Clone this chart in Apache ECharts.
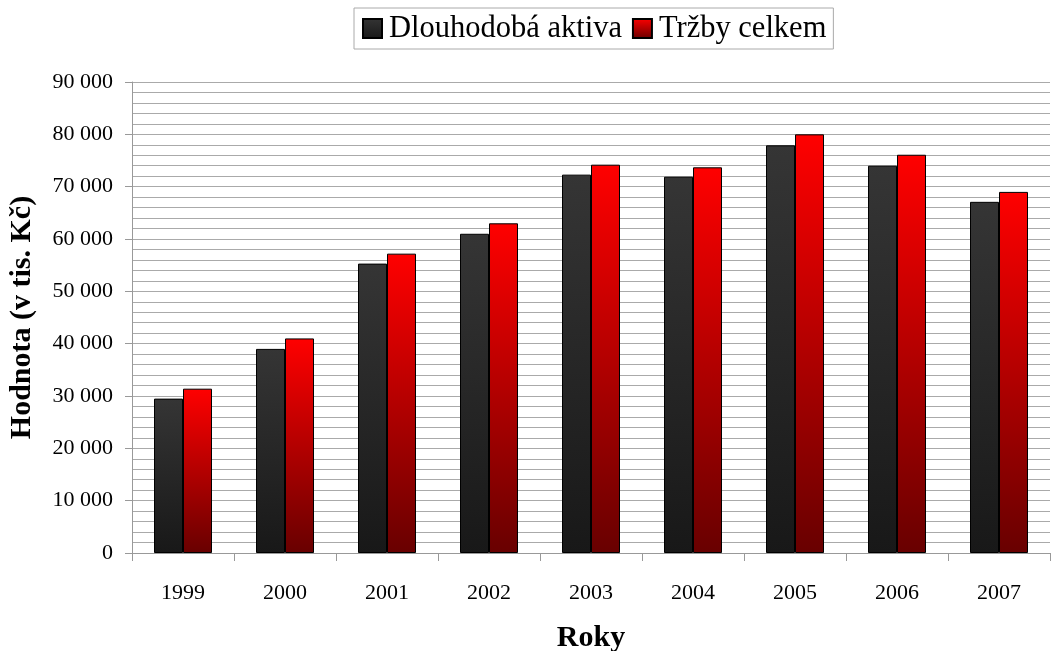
<!DOCTYPE html>
<html><head><meta charset="utf-8">
<script src="https://cdn.jsdelivr.net/npm/echarts@6/dist/echarts.min.js"></script>
<style>html,body{margin:0;padding:0;background:#fff}#c{width:1053px;height:651px}</style>
</head><body><div id="c"></div>
<script>
const years = ['1999','2000','2001','2002','2003','2004','2005','2006','2007'];
const dlouhodobaAktiva = [29500, 39000, 55300, 61000, 72300, 71900, 77900, 74000, 67100];
const trzbyCelkem = [31400, 41000, 57200, 63000, 74200, 73700, 80000, 76100, 69000];
const seriesNames = ['Dlouhodobá aktiva', 'Tržby celkem'];
const FONT = '"Liberation Serif", "DejaVu Serif", serif';

const chart = echarts.init(document.getElementById('c'));
const darkGrad = new echarts.graphic.LinearGradient(0,0,0,1,[{offset:0,color:'#353535'},{offset:1,color:'#181818'}]);
const redGrad = new echarts.graphic.LinearGradient(0,0,0,1,[{offset:0,color:'#ff0000'},{offset:1,color:'#680000'}]);
chart.setOption({
  animation:false,
  textStyle:{fontFamily:FONT},
  legend:{
    left:354, top:8, itemWidth:19, itemHeight:19, itemGap:10, icon:'rect',
    padding:[5,7,5,8],
    borderColor:'#aaa', borderWidth:1,
    textStyle:{fontFamily:FONT,fontSize:30.5,color:'#000',padding:[0,0,0,2]},
    data:seriesNames
  },
  grid:{left:132,right:3,top:82,bottom:98,containLabel:false,outerBoundsMode:'none'},
  xAxis:{
    type:'category', data:years,
    name:'Roky', nameLocation:'middle', nameGap:70,
    nameTextStyle:{fontFamily:FONT,fontSize:30,fontWeight:'bold',color:'#000'},
    axisLine:{lineStyle:{color:'#999'}},
    axisTick:{show:true,length:8,lineStyle:{color:'#999'},alignWithLabel:false},
    axisLabel:{fontFamily:FONT,fontSize:22,color:'#000',margin:29}
  },
  yAxis:{
    type:'value', min:0, max:90000, interval:10000,
    name:'Hodnota (v tis. Kč)', nameLocation:'middle', nameGap:95, nameRotate:90,
    nameTextStyle:{fontFamily:FONT,fontSize:30,fontWeight:'bold',color:'#000'},
    axisLine:{show:true,lineStyle:{color:'#999'}},
    axisTick:{show:true,length:7,inside:false,lineStyle:{color:'#999'}},
    axisLabel:{fontFamily:FONT,fontSize:22,color:'#000',margin:19,
      formatter:v=>String(v).replace(/\B(?=(\d{3})+(?!\d))/g,' ')},
    splitLine:{show:true,lineStyle:{color:'#aaa'}},
    minorTick:{show:false,splitNumber:5},
    minorSplitLine:{show:true,lineStyle:{color:'#aaa'}}
  },
  series:[
    {name:seriesNames[0],type:'bar',data:dlouhodobaAktiva,barWidth:29,barGap:'0%',
     itemStyle:{color:darkGrad,borderColor:'#000',borderWidth:1}},
    {name:seriesNames[1],type:'bar',data:trzbyCelkem,barWidth:29,barGap:'0%',
     itemStyle:{color:redGrad,borderColor:'#000',borderWidth:1}}
  ]
});
</script></body></html>
